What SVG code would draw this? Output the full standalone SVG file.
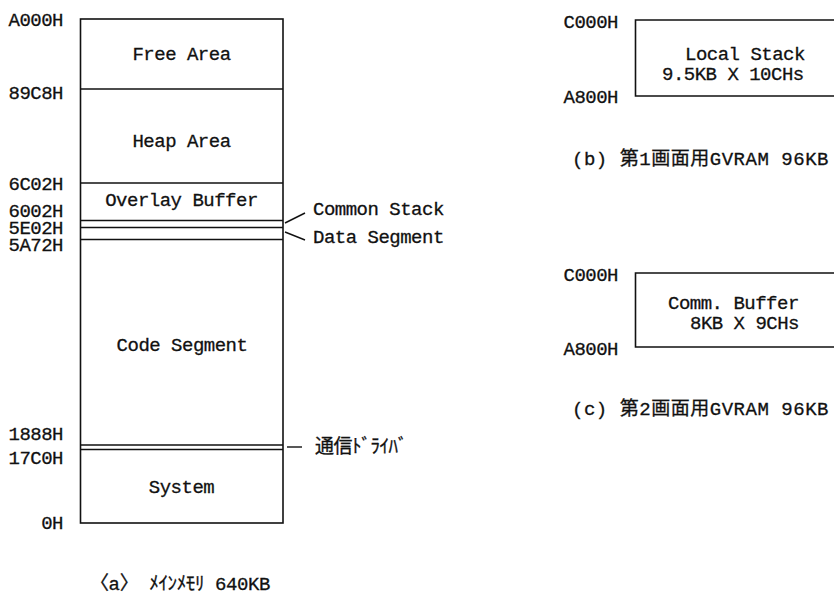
<svg xmlns="http://www.w3.org/2000/svg" width="834" height="599" viewBox="0 0 834 599">
<style>
text{font-family:"Liberation Mono","Noto Sans CJK JP",monospace;font-size:19px;letter-spacing:-0.5px;fill:#111;stroke:#111;stroke-width:0.3}
.addr{text-anchor:end}
.mid{text-anchor:middle}
.box{fill:none;stroke:#111;stroke-width:1.6}
.ln{stroke:#111;stroke-width:1.4;fill:none}
</style>
<rect width="834" height="599" fill="#fff"/>
<g id="main-memory">
<rect class="box" x="80.5" y="19" width="202.5" height="504"/>
<line class="ln" x1="80.5" y1="89" x2="283" y2="89"/>
<line class="ln" x1="80.5" y1="183" x2="283" y2="183"/>
<line class="ln" x1="80.5" y1="220.5" x2="283" y2="220.5"/>
<line class="ln" x1="80.5" y1="227.5" x2="283" y2="227.5"/>
<line class="ln" x1="80.5" y1="239.5" x2="283" y2="239.5"/>
<line class="ln" x1="80.5" y1="445" x2="283" y2="445"/>
<line class="ln" x1="80.5" y1="449.5" x2="283" y2="449.5"/>
</g>
<g id="main-labels">
<text class="mid" x="181.5" y="60">Free Area</text>
<text class="mid" x="181.5" y="147">Heap Area</text>
<text class="mid" x="181.5" y="206">Overlay Buffer</text>
<text class="mid" x="182" y="351">Code Segment</text>
<text class="mid" x="181.5" y="493">System</text>
</g>
<g id="addresses-a">
<text class="addr" x="63" y="26">A000H</text>
<text class="addr" x="63" y="99">89C8H</text>
<text class="addr" x="63" y="190">6C02H</text>
<text class="addr" x="63" y="217">6002H</text>
<text class="addr" x="63" y="234">5E02H</text>
<text class="addr" x="63" y="251">5A72H</text>
<text class="addr" x="63" y="440">1888H</text>
<text class="addr" x="63" y="464">17C0H</text>
<text class="addr" x="63" y="529">0H</text>
</g>
<g id="connectors">
<line class="ln" x1="285" y1="223" x2="305" y2="213"/>
<line class="ln" x1="285" y1="232" x2="305" y2="240"/>
<line class="ln" x1="287" y1="447" x2="302" y2="447"/>
</g>
<g id="callouts">
<text x="313" y="215">Common Stack</text>
<text x="313" y="243">Data Segment</text>
<text x="315" y="453">通信ﾄﾞﾗｲﾊﾞ</text>
</g>
<text id="caption-a" x="90" y="590" textLength="180" lengthAdjust="spacing">〈a〉 ﾒｲﾝﾒﾓﾘ 640KB</text>
<g id="gvram1">
<path class="box" d="M845 20 H635.5 V96 H845"/>
<text x="685" y="60">Local Stack</text>
<text x="662" y="80">9.5KB X 10CHs</text>
<text class="addr" x="618" y="28">C000H</text>
<text class="addr" x="618" y="103">A800H</text>
</g>
<text id="caption-b" x="572" y="165" textLength="256" lengthAdjust="spacing">(b) 第1画面用GVRAM 96KB</text>
<g id="gvram2">
<path class="box" d="M845 273 H635.5 V347 H845"/>
<text x="668" y="309">Comm. Buffer</text>
<text x="690" y="329">8KB X 9CHs</text>
<text class="addr" x="618" y="281">C000H</text>
<text class="addr" x="618" y="355">A800H</text>
</g>
<text id="caption-c" x="572" y="415" textLength="256" lengthAdjust="spacing">(c) 第2画面用GVRAM 96KB</text>
</svg>
